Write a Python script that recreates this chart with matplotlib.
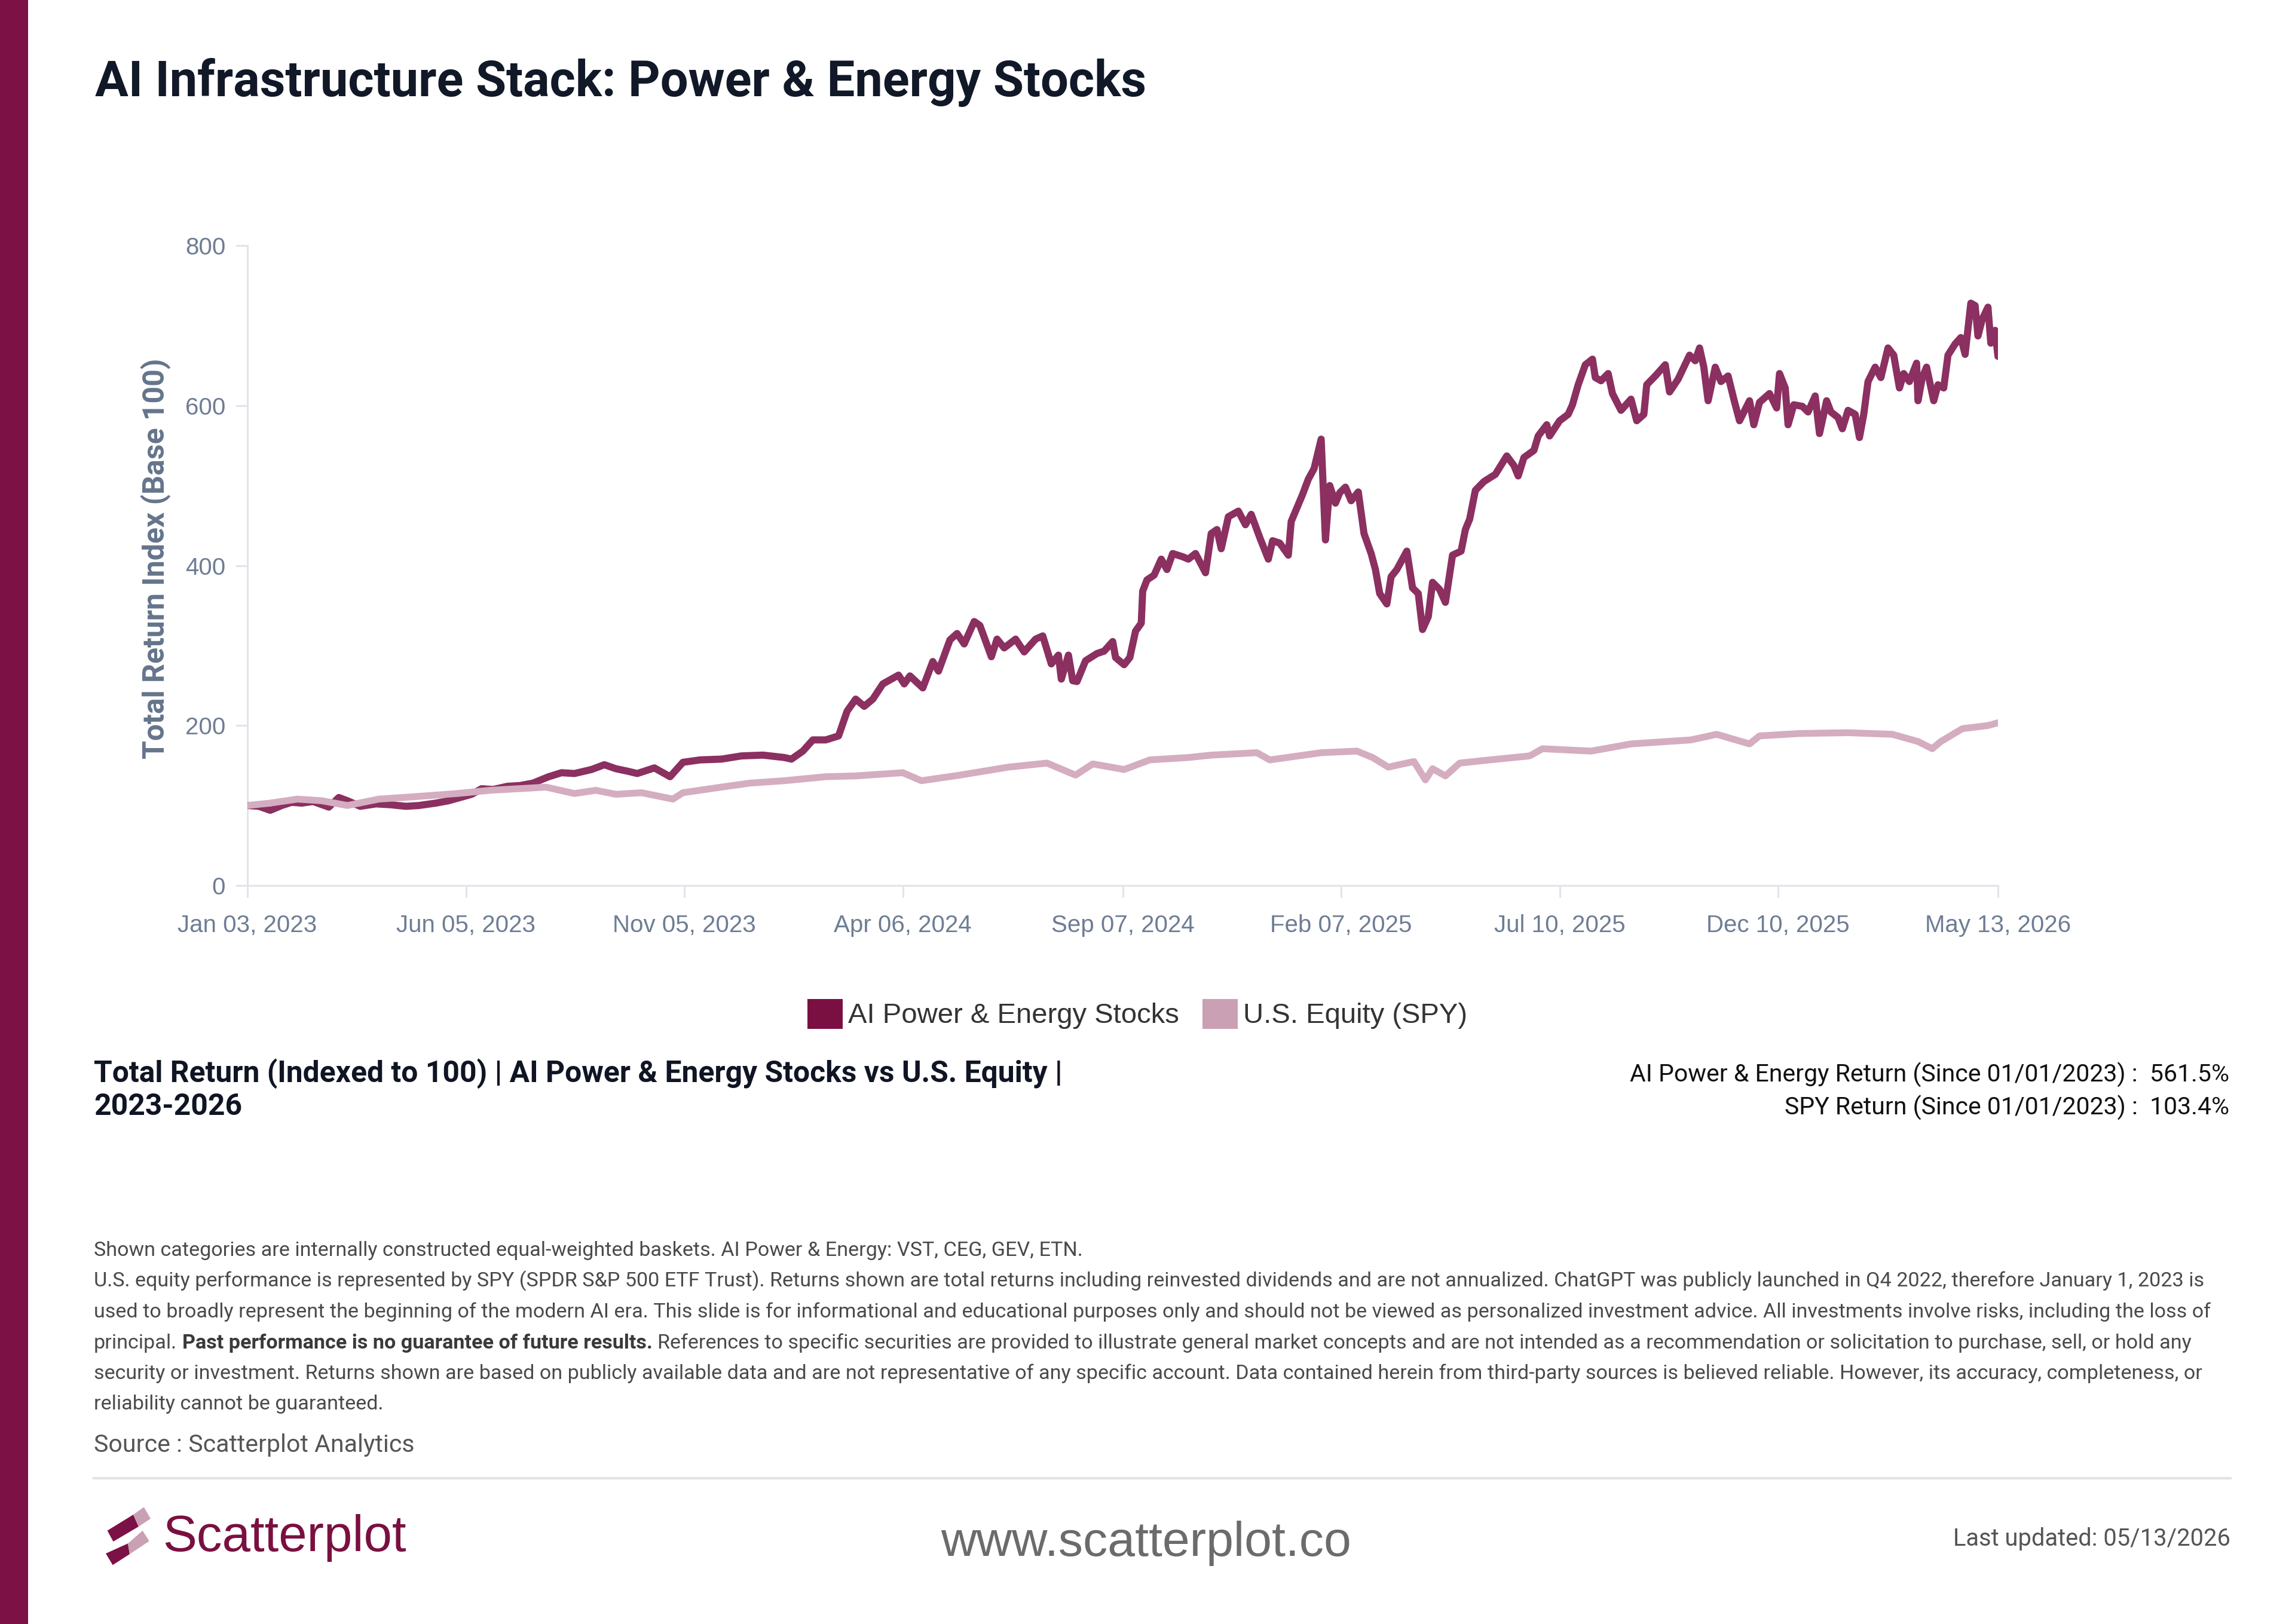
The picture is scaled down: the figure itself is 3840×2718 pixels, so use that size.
import matplotlib
matplotlib.use("Agg")
import matplotlib.pyplot as plt
from matplotlib.patches import Patch, Polygon, Rectangle
from matplotlib.lines import Line2D
from matplotlib import font_manager as fm
import pandas as pd

# ---------------- data ----------------
title = "AI Infrastructure Stack: Power & Energy Stocks"
series_names = ["AI Power & Energy Stocks", "U.S. Equity (SPY)"]

ai_dates = [
    "2023-01-03", "2023-01-11", "2023-01-19", "2023-01-27", "2023-02-03", "2023-02-10", "2023-02-18",
    "2023-03-01", "2023-03-08", "2023-03-14", "2023-03-23", "2023-04-03", "2023-04-13", "2023-04-24",
    "2023-05-03", "2023-05-15", "2023-05-24", "2023-06-01", "2023-06-09", "2023-06-16", "2023-06-24",
    "2023-07-04", "2023-07-13", "2023-07-22", "2023-08-02", "2023-08-11", "2023-08-20", "2023-09-01",
    "2023-09-10", "2023-09-18", "2023-09-26", "2023-10-03", "2023-10-15", "2023-10-26", "2023-11-04",
    "2023-11-16", "2023-12-01", "2023-12-15", "2023-12-30",
    "2024-01-14", "2024-01-19", "2024-01-27", "2024-02-03", "2024-02-12", "2024-02-21", "2024-02-27",
    "2024-03-04", "2024-03-10", "2024-03-16", "2024-03-23", "2024-04-03", "2024-04-07", "2024-04-11",
    "2024-04-20", "2024-04-27", "2024-05-01", "2024-05-09", "2024-05-14", "2024-05-19", "2024-05-26",
    "2024-05-30", "2024-06-07", "2024-06-11", "2024-06-16", "2024-06-24", "2024-06-30", "2024-07-08",
    "2024-07-13", "2024-07-19", "2024-07-24", "2024-07-26", "2024-07-31", "2024-08-03", "2024-08-06",
    "2024-08-12", "2024-08-20", "2024-08-25", "2024-08-31", "2024-09-02", "2024-09-08", "2024-09-12",
    "2024-09-16", "2024-09-20", "2024-09-21", "2024-09-24", "2024-09-29", "2024-10-04", "2024-10-08",
    "2024-10-12", "2024-10-19", "2024-10-23", "2024-10-28", "2024-11-04", "2024-11-08", "2024-11-12",
    "2024-11-15", "2024-11-20", "2024-11-27", "2024-12-02", "2024-12-06", "2024-12-12", "2024-12-18",
    "2024-12-21", "2024-12-26",
    "2025-01-01", "2025-01-03", "2025-01-07", "2025-01-11", "2025-01-15", "2025-01-19", "2025-01-24",
    "2025-01-27", "2025-01-30", "2025-02-03", "2025-02-06", "2025-02-10", "2025-02-14", "2025-02-19",
    "2025-02-23", "2025-02-28", "2025-03-03", "2025-03-06", "2025-03-11", "2025-03-14", "2025-03-18",
    "2025-03-25", "2025-03-29", "2025-04-02", "2025-04-05", "2025-04-09", "2025-04-12", "2025-04-17",
    "2025-04-21", "2025-04-26", "2025-05-02", "2025-05-05", "2025-05-08", "2025-05-12", "2025-05-18",
    "2025-05-26", "2025-06-03", "2025-06-08", "2025-06-11", "2025-06-15", "2025-06-22", "2025-06-25",
    "2025-07-01", "2025-07-03", "2025-07-10", "2025-07-16", "2025-07-19", "2025-07-23", "2025-07-28",
    "2025-08-02", "2025-08-04", "2025-08-08", "2025-08-13", "2025-08-16", "2025-08-22", "2025-08-29",
    "2025-09-02", "2025-09-07", "2025-09-09", "2025-09-15", "2025-09-22", "2025-09-25", "2025-10-01",
    "2025-10-09", "2025-10-13", "2025-10-16", "2025-10-19", "2025-10-22", "2025-10-27", "2025-10-31",
    "2025-11-05", "2025-11-09", "2025-11-13", "2025-11-20", "2025-11-23", "2025-11-27", "2025-12-04",
    "2025-12-09", "2025-12-11", "2025-12-15", "2025-12-17", "2025-12-21", "2025-12-27", "2025-12-31",
    "2026-01-05", "2026-01-08", "2026-01-13", "2026-01-16", "2026-01-21", "2026-01-24", "2026-01-28",
    "2026-02-02", "2026-02-05", "2026-02-08", "2026-02-11", "2026-02-16", "2026-02-20", "2026-02-25",
    "2026-03-01", "2026-03-05", "2026-03-08", "2026-03-12", "2026-03-17", "2026-03-18", "2026-03-21",
    "2026-03-24", "2026-03-29", "2026-04-01", "2026-04-05", "2026-04-08", "2026-04-13", "2026-04-17",
    "2026-04-20", "2026-04-24", "2026-04-27", "2026-04-29", "2026-05-02", "2026-05-06", "2026-05-08",
    "2026-05-11", "2026-05-13",
]
ai_values = [
    100, 99, 94, 100, 104, 103, 105, 98, 110, 106, 99, 102, 101, 99, 100, 103, 106, 110, 114, 121,
    120, 124, 125, 128, 136, 141, 140, 145, 151, 146, 143, 140, 147, 136, 154, 157, 158, 162, 163,
    160, 158, 168, 182, 182, 187, 218, 233, 224, 233, 252, 263, 252, 262, 247, 280, 268, 307, 315, 302,
    330, 325, 286, 308, 297, 308, 292, 308, 312, 277, 288, 258, 288, 256, 255, 281, 290, 293, 305, 285,
    276, 285, 318, 328, 368, 382, 388, 408, 395, 415, 411, 408, 415, 391, 440, 445, 421, 461, 468, 451,
    464, 435, 408, 431, 428,
    413, 455, 472, 489, 508, 521, 558, 432, 500, 478, 491, 498, 481, 492, 440, 415, 395, 365, 352, 386,
    395, 418, 372, 365, 320, 336, 379, 370, 354, 413, 418, 445, 458, 494, 505, 514, 537, 525, 512, 535,
    544, 562, 576, 562, 581, 589, 601, 626, 651, 658, 635, 631, 640, 615, 594, 608, 581, 589, 626, 637,
    651, 617, 633, 663, 656, 672, 648, 606, 648, 630, 637, 608, 581, 606, 576, 604, 615, 597, 640, 622,
    576, 601, 599, 592,
    612, 565, 606, 592, 585, 571, 594, 589, 560, 589, 630, 648, 635, 672, 663, 622, 640, 630, 653, 606,
    635, 648, 606, 626, 622, 663, 677, 685, 664, 728, 725, 687, 708, 723, 678, 694, 661.5,
]

spy_dates = [
    "2023-01-03", "2023-01-19", "2023-02-07", "2023-02-24", "2023-03-14", "2023-04-05", "2023-04-30",
    "2023-05-30", "2023-06-22", "2023-07-22", "2023-07-31", "2023-08-20", "2023-09-04", "2023-09-18",
    "2023-10-06", "2023-10-28", "2023-11-04", "2023-12-01", "2023-12-21", "2024-01-14", "2024-02-12",
    "2024-03-04", "2024-04-06", "2024-04-19", "2024-05-16", "2024-06-19", "2024-07-16", "2024-08-05",
    "2024-08-17", "2024-09-08", "2024-09-26", "2024-10-23", "2024-11-08", "2024-12-10", "2024-12-19",
    "2025-01-24", "2025-02-18", "2025-03-01", "2025-03-12", "2025-03-30", "2025-04-07", "2025-04-12",
    "2025-04-21", "2025-05-01", "2025-05-22", "2025-06-19", "2025-06-28", "2025-08-01", "2025-08-29",
    "2025-10-10", "2025-10-28", "2025-11-20", "2025-11-27", "2025-12-25", "2026-01-28", "2026-02-28",
    "2026-03-18", "2026-03-28", "2026-04-03", "2026-04-18", "2026-05-06", "2026-05-13",
]
spy_values = [
    100, 103, 108, 106, 100, 108, 111, 115, 119, 122, 123, 115, 119, 114, 116, 108, 116, 123, 128, 131,
    136, 137, 141, 131, 138, 148, 153, 138, 152, 145, 157, 160, 163, 166, 157, 166, 168, 160, 148, 155,
    132, 146, 137, 153, 157, 162, 171, 168, 177, 182, 189, 177, 187, 190, 191, 189, 180, 171, 180, 196,
    200, 203.4,
]

x_tick_dates = ["2023-01-03", "2023-06-05", "2023-11-05", "2024-04-06", "2024-09-07",
                "2025-02-07", "2025-07-10", "2025-12-10", "2026-05-13"]
x_tick_labels = ["Jan 03, 2023", "Jun 05, 2023", "Nov 05, 2023", "Apr 06, 2024", "Sep 07, 2024",
                 "Feb 07, 2025", "Jul 10, 2025", "Dec 10, 2025", "May 13, 2026"]
y_ticks = [0, 200, 400, 600, 800]
y_label = "Total Return Index (Base 100)"

subtitle_lines = ["Total Return (Indexed to 100) | AI Power & Energy Stocks vs U.S. Equity |", "2023-2026"]
stat_lines = ["AI Power & Energy Return (Since 01/01/2023) :  561.5%",
              "SPY Return (Since 01/01/2023) :  103.4%"]
footnote_lines = [
    "Shown categories are internally constructed equal-weighted baskets. AI Power & Energy: VST, CEG, GEV, ETN.",
    "U.S. equity performance is represented by SPY (SPDR S&P 500 ETF Trust). Returns shown are total returns including reinvested dividends and are not annualized. ChatGPT was publicly launched in Q4 2022, therefore January 1, 2023 is",
    "used to broadly represent the beginning of the modern AI era. This slide is for informational and educational purposes only and should not be viewed as personalized investment advice. All investments involve risks, including the loss of",
    None,
    "security or investment. Returns shown are based on publicly available data and are not representative of any specific account. Data contained herein from third-party sources is believed reliable. However, its accuracy, completeness, or",
    "reliability cannot be guaranteed.",
]
footnote_line4 = ["principal.", "Past performance is no guarantee of future results.",
                  "References to specific securities are provided to illustrate general market concepts and are not intended as a recommendation or solicitation to purchase, sell, or hold any"]
source_text = "Source : Scatterplot Analytics"
brand = "Scatterplot"
website = "www.scatterplot.co"
updated = "Last updated: 05/13/2026"

# ---------------- style ----------------
AI_LINE = "#8b3060"
SPY_LINE = "#d4adc0"
AI_SW = "#7a0f42"
SPY_SW = "#c9a0b4"
MAROON = "#7b1144"

W, H = 3840, 2718
fig = plt.figure(figsize=(W / 100, H / 100), dpi=100)
fig.patch.set_facecolor("white")
renderer = fig.canvas.get_renderer()

names = {f.name for f in fm.fontManager.ttflist}


def pick(*cands):
    for c in cands:
        if c in names:
            return c
    return "DejaVu Sans"


HEAD = pick("Roboto", "Liberation Sans", "DejaVu Sans")
ARIAL = pick("Liberation Sans", "Arimo", "DejaVu Sans")


def fx(x):
    return x / W


def fy(y):
    return 1 - y / H


def fit(t, target, vertical=False):
    bb = t.get_window_extent(renderer)
    cur = bb.height if vertical else bb.width
    t.set_fontsize(t.get_fontsize() * target / cur)
    return t.get_fontsize()


def twidth(s, **kw):
    t = fig.text(0, 0, s, **kw)
    w = t.get_window_extent(renderer).width
    t.remove()
    return w


# left accent bar
fig.add_artist(Rectangle((0, 0), fx(47), 1, transform=fig.transFigure, color=MAROON, lw=0))

# title
t = fig.text(fx(159), fy(161), title, fontsize=60, fontweight="bold", color="#111827",
             family=HEAD, va="baseline", ha="left")
fit(t, 1761)

# ---------------- axes ----------------
x0, x1, ytop, ybot = 414, 3343, 411, 1482
ax = fig.add_axes([fx(x0), fy(ybot), (x1 - x0) / W, (ybot - ytop) / H])
ai_x = pd.to_datetime(ai_dates)
spy_x = pd.to_datetime(spy_dates)
ax.plot(ai_x, ai_values, color=AI_LINE, lw=8.6, solid_joinstyle="round", solid_capstyle="round",
        zorder=3)
ax.plot(spy_x, spy_values, color=SPY_LINE, lw=8.2, solid_joinstyle="round", solid_capstyle="round",
        zorder=4)
ax.set_xlim(pd.Timestamp(x_tick_dates[0]), pd.Timestamp(x_tick_dates[-1]))
ax.set_ylim(0, 800)
ax.set_yticks(y_ticks)
ax.set_yticklabels([str(v) for v in y_ticks])
ax.set_xticks(pd.to_datetime(x_tick_dates))
ax.set_xticklabels(x_tick_labels)
for s in ["top", "right"]:
    ax.spines[s].set_visible(False)
for s in ["left", "bottom"]:
    ax.spines[s].set_color("#e1e4ea")
    ax.spines[s].set_linewidth(2.2)
ax.tick_params(axis="both", color="#e1e4ea", width=2.2, length=14.4, labelsize=29,
               labelcolor="#6e7d94")
ax.tick_params(axis="y", pad=12)
ax.tick_params(axis="x", pad=20)
for lab in ax.get_xticklabels() + ax.get_yticklabels():
    lab.set_fontfamily(ARIAL)
ax.set_facecolor("white")

yl = ax.set_ylabel(y_label, fontsize=33, fontweight="bold", color="#64748b", family=HEAD,
                   va="center")
ax.yaxis.set_label_coords((261 - x0) / (x1 - x0), (ybot - 935) / (ybot - ytop))
fit(yl, 670, vertical=True)

# legend
handles = [Patch(facecolor=AI_SW, edgecolor="none"), Patch(facecolor=SPY_SW, edgecolor="none")]
leg = fig.legend(handles, series_names, loc="center", bbox_to_anchor=(fx(1903), fy(1697)),
                 ncol=2, frameon=False, prop={"family": ARIAL, "size": 34},
                 handlelength=1.25, handleheight=1.25, handletextpad=0.19, columnspacing=0.83,
                 labelcolor="#333333")

# subtitle
s1 = fig.text(fx(157), fy(1811), subtitle_lines[0], fontsize=33, fontweight="bold", color="#0f1523",
              family=HEAD, va="baseline")
fs = fit(s1, 1619)
fig.text(fx(157), fy(1866), subtitle_lines[1], fontsize=fs, fontweight="bold", color="#0f1523",
         family=HEAD, va="baseline")

# stats right
r1 = fig.text(fx(3730), fy(1811), stat_lines[0], fontsize=30, color="#111111", family=HEAD,
              va="baseline", ha="right")
fs = fit(r1, 1003)
fig.text(fx(3730), fy(1866), stat_lines[1], fontsize=fs, color="#111111", family=HEAD,
         va="baseline", ha="right")

# footnotes
FOOT = "#4a4a4a"
base = [2102, 2153.5, 2205, 2256.5, 2308, 2359.5]
probe = fig.text(fx(157), fy(base[1]), footnote_lines[1], fontsize=22, color=FOOT, family=HEAD,
                 va="baseline")
ffs = fit(probe, 3534)
for i, line in enumerate(footnote_lines):
    if i == 1 or line is None:
        continue
    fig.text(fx(157), fy(base[i]), line, fontsize=ffs, color=FOOT, family=HEAD, va="baseline")
kw = dict(fontsize=ffs, family=HEAD)
sp = twidth("a a", **kw) - twidth("aa", **kw)
spb = twidth("a a", fontweight="bold", **kw) - twidth("aa", fontweight="bold", **kw)
xp = 157
fig.text(fx(xp), fy(base[3]), footnote_line4[0], color=FOOT, va="baseline", **kw)
xp += twidth(footnote_line4[0], **kw) + sp
fig.text(fx(xp), fy(base[3]), footnote_line4[1], color="#3a3a3a", fontweight="bold", va="baseline",
         **kw)
xp += twidth(footnote_line4[1], fontweight="bold", **kw) + spb
fig.text(fx(xp), fy(base[3]), footnote_line4[2], color=FOOT, va="baseline", **kw)

src = fig.text(fx(157), fy(2430), source_text, fontsize=28, color="#555555", family=HEAD,
               va="baseline")
fit(src, 536)

# separator
fig.add_artist(Line2D([fx(157), fx(3732)], [fy(2474), fy(2474)], color="#e3e3e3", lw=3))

# logo
def poly(pts, color):
    fig.add_artist(Polygon([(fx(a), fy(b)) for a, b in pts], closed=True, transform=fig.transFigure,
                           facecolor=color, edgecolor="none"))


poly([(179.6, 2561.7), (223, 2535), (231.9, 2555), (189.5, 2580)], MAROON)
poly([(223, 2535), (240.8, 2522.3), (252, 2541.7), (231.9, 2555)], "#c9a0b4")
poly([(177, 2600), (214, 2583.3), (217, 2601), (188.6, 2619.3)], MAROON)
poly([(214, 2583.3), (238.6, 2561.7), (249.7, 2579.3), (217, 2601)], "#c9a0b4")

b = fig.text(fx(272), fy(2596), brand, fontsize=53, color="#7a1040", family=ARIAL, va="baseline")
fit(b, 408)

wtx = fig.text(fx(1918), fy(2604), website, fontsize=50, color="#6b6b6b", family=ARIAL,
               va="baseline", ha="center")
fit(wtx, 688)

up = fig.text(fx(3732), fy(2587), updated, fontsize=26, color="#555555", family=HEAD,
              va="baseline", ha="right")
fit(up, 463)

fig.savefig("out.png", dpi=100, facecolor="white")
